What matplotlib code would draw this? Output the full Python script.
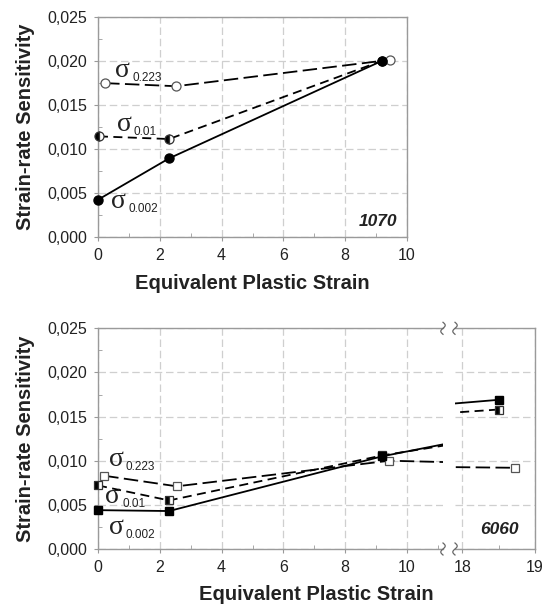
import matplotlib
matplotlib.use('Agg')
import matplotlib.pyplot as plt
import numpy as np
from matplotlib.lines import Line2D
from matplotlib.ticker import MultipleLocator, FixedLocator

plt.rcParams['font.family'] = ['Liberation Sans', 'DejaVu Sans']

# --- data: alloy 1070 (top panel) ---
x1070_002 = [0.0, 2.3, 9.2]
y1070_002 = [0.0042, 0.0089, 0.0200]
x1070_001 = [0.03, 2.3, 9.2]
y1070_001 = [0.0114, 0.0111, 0.0200]
x1070_223 = [0.23, 2.53, 9.46]
y1070_223 = [0.01745, 0.0171, 0.0201]

# --- data: alloy 6060 (bottom panel, broken x axis) ---
x6060_002 = [0.0, 2.3, 9.2, 18.5]
y6060_002 = [0.0044, 0.0043, 0.0105, 0.0169]
x6060_001 = [0.0, 2.3, 9.2, 18.5]
y6060_001 = [0.0072, 0.0055, 0.0106, 0.0158]
x6060_223 = [0.2, 2.55, 9.43, 18.73]
y6060_223 = [0.0083, 0.0071, 0.0100, 0.0092]

yticks = [0.0, 0.005, 0.010, 0.015, 0.020, 0.025]
ytick_labels = ['0,000', '0,005', '0,010', '0,015', '0,020', '0,025']

SPINE = '#9a9a9a'
GRID = '#cfcfcf'
TXT = '#222222'

fig = plt.figure(figsize=(5.44, 6.08), dpi=100)
W, H = 544.0, 608.0


def box(l, r, t, b):
    return [l / W, (H - b) / H, (r - l) / W, (b - t) / H]


ax1 = fig.add_axes(box(98, 407, 16.7, 236.7))
ax2 = fig.add_axes(box(98, 443, 328.3, 549))
ax3 = fig.add_axes(box(455, 535, 328.3, 549))


def style(ax):
    ax.set_ylim(0, 0.025)
    ax.grid(True, which='major', color=GRID, linestyle=(0, (6, 3)), linewidth=0.9)
    ax.set_axisbelow(True)
    for s in ax.spines.values():
        s.set_color(SPINE)
        s.set_linewidth(1.0)
    ax.tick_params(which='major', direction='out', length=3, color=SPINE,
                   labelsize=11.5, labelcolor=TXT, pad=5)
    ax.tick_params(which='minor', direction='in', length=3, color=SPINE)
    ax.yaxis.set_minor_locator(MultipleLocator(0.0025))


styles = {
    '0.223': dict(linestyle=(0, (8, 3)), mfc='white', mec='#555555', mew=0.9),
    '0.01': dict(linestyle=(0, (5, 3)), fillstyle='left', mfc='black',
                 mfcalt='white', mec='#333333', mew=0.9),
    '0.002': dict(linestyle='-', mfc='black', mec='black'),
}


def series(ax, x, y, key, marker, ms, lo, hi):
    st = dict(styles[key])
    ls = st.pop('linestyle')
    ax.plot(x, y, color='black', linewidth=1.3, linestyle=ls, zorder=3)
    xs = [a for a in x if lo <= a <= hi]
    ys = [b for a, b in zip(x, y) if lo <= a <= hi]
    ax.plot(xs, ys, linestyle='none', marker=marker, ms=ms, clip_on=False,
            zorder=4, **st)


style(ax1)
ax1.set_xlim(0, 10)
ax1.set_xticks(range(0, 11, 2))
ax1.xaxis.set_minor_locator(MultipleLocator(1))
ax1.set_yticks(yticks)
ax1.set_yticklabels(ytick_labels)

series(ax1, x1070_223, y1070_223, '0.223', 'o', 6.5, 0, 10)
series(ax1, x1070_001, y1070_001, '0.01', 'o', 6.5, 0, 10)
series(ax1, x1070_002, y1070_002, '0.002', 'o', 6.5, 0, 10)


def sigma(ax, x, y, sub):
    ax.text(x, y, 'σ', fontsize=20, family=['Liberation Serif', 'DejaVu Serif'],
            va='baseline', ha='left', color=TXT)
    ax.annotate(sub, (x, y), xytext=(12.5, -3), textcoords='offset points',
                fontsize=8.5, va='baseline', ha='left', color=TXT)


sigma(ax1, 0.55, 0.01815, '0.223')
sigma(ax1, 0.6, 0.01201, '0.01')
sigma(ax1, 0.41, 0.0033, '0.002')
ax1.text(9.68, 0.0017, '1070', fontsize=12.5, fontweight='bold', fontstyle='italic',
         ha='right', va='center', color=TXT)
ax1.set_ylabel('Strain-rate Sensitivity', fontsize=14.5, fontweight='bold', color=TXT, labelpad=9)
ax1.set_xlabel('Equivalent Plastic Strain', fontsize=14.5, fontweight='bold', color=TXT, labelpad=8)

# bottom panel: same series drawn into both halves of the broken axis
for ax, lo, hi in ((ax2, 0, 11.165), (ax3, 17.9, 19.0)):
    style(ax)
    series(ax, x6060_223, y6060_223, '0.223', 's', 6, lo, hi)
    series(ax, x6060_001, y6060_001, '0.01', 's', 6, lo, hi)
    series(ax, x6060_002, y6060_002, '0.002', 's', 6, lo, hi)

ax2.set_xlim(0, 11.165)
ax2.set_xticks(range(0, 11, 2))
ax2.xaxis.set_minor_locator(FixedLocator([1, 3, 5, 7, 9, 11]))
ax2.set_yticks(yticks)
ax2.set_yticklabels(ytick_labels)
ax2.spines['right'].set_visible(False)

ax3.set_xlim(17.9, 19.0)
ax3.set_xticks([18, 19])
ax3.xaxis.set_minor_locator(FixedLocator([18.5]))
ax3.set_yticks(yticks)
ax3.tick_params(axis='y', which='both', left=False, labelleft=False)
ax3.spines['left'].set_visible(False)

sigma(ax2, 0.34, 0.0094, '0.223')
sigma(ax2, 0.23, 0.00524, '0.01')
sigma(ax2, 0.34, 0.00167, '0.002')
ax3.text(18.77, 0.00223, '6060', fontsize=12.5, fontweight='bold', fontstyle='italic',
         ha='right', va='center', color=TXT)
ax2.set_ylabel('Strain-rate Sensitivity', fontsize=14.5, fontweight='bold', color=TXT, labelpad=9)
fig.text(316.5 / W, (H - 594) / H, 'Equivalent Plastic Strain', fontsize=14.5,
         fontweight='bold', color=TXT, ha='center', va='center')

# break marks
t = np.linspace(-1, 1, 30)
for px in (443, 455):
    for py in (328.3, 549):
        xs = (px + 2.2 * np.sin(np.pi * t)) / W
        ys = (H - (py - 6 * t)) / H
        fig.add_artist(Line2D(xs, ys, color='#666666', linewidth=0.9,
                              transform=fig.transFigure))

fig.savefig('out.png', dpi=100)
